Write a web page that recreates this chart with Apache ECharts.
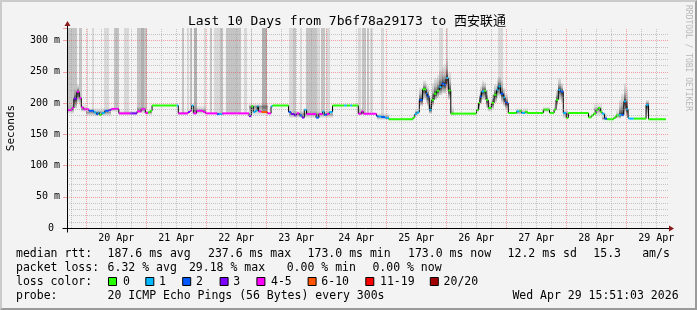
<!DOCTYPE html>
<html><head><meta charset="utf-8">
<script src="https://cdn.jsdelivr.net/npm/echarts@6/dist/echarts.min.js"></script>
<style>
html,body{margin:0;padding:0;background:#f3f3f3;}
#c{position:absolute;left:0;top:0;width:697px;height:310px;}
#frame{position:absolute;left:0;top:0;width:697px;height:310px;box-sizing:border-box;border-style:solid;border-width:2px;border-color:#cbcbcb #9a9a9a #9a9a9a #cbcbcb;pointer-events:none;}
</style></head><body>
<div id="c"></div><div id="frame"></div>
<script>
// ---- time unit: hours since 19 Apr 00:00 ----
const xMin = 16.28, xMax = 256.68, dataEnd = 255.85;
const yMin = 0, yMax = 320;
const yLabelValues = [0, 50, 100, 150, 200, 250, 300];
const dayLabelHours = [36, 60, 84, 108, 132, 156, 180, 204, 228, 252];
const dayLabels = ['20 Apr','21 Apr','22 Apr','23 Apr','24 Apr','25 Apr','26 Apr','27 Apr','28 Apr','29 Apr'];

const lossColors = ['#26ff00','#00b8ff','#0059ff','#7e00ff','#ff00ff','#ff5500','#ff0000','#a10000'];
const lossLabels = ['0','1','2','3','4-5','6-10','11-19','20/20'];

// median rtt steps (ms), loss class index
const stepHours = [16.28,18.3,19.0,20.2,21.2,22.0,22.8,25.0,27.0,28.0,28.7,29.2,30.2,31.4,33.0,34.0,37.0,41.6,44.3,46.0,47.6,48.7,49.6,50.3,60.2,60.8,64.7,65.5,66.1,66.8,68.1,70.8,71.7,76.4,77.2,78.4,89.1,90.0,90.8,91.6,92.4,92.9,94.0,96.5,97.9,98.5,104.9,105.9,107.2,108.1,109.2,110.3,111.2,112.1,115.9,117.0,118.5,119.2,120.3,121.2,122.5,127.2,128.2,129.6,130.4,132.8,134.1,134.8,140.1,140.9,142.0,143.5,145.0,154.7,155.4,156.2,157.2,158.5,159.9,160.4,161.2,162.1,163.1,164.1,165.2,166.1,167.1,167.9,168.8,169.8,180.1,180.9,181.5,182.1,183.1,183.9,184.8,186.1,187.1,188.1,188.8,189.7,190.8,191.5,192.1,192.8,196.1,197.2,198.1,199.5,200.4,206.8,209.3,211.1,211.9,212.8,213.7,214.8,216.0,216.8,224.9,226.0,226.9,227.9,228.7,229.6,230.3,231.3,232.3,235.0,235.9,237.0,238.0,239.0,239.9,240.7,241.2,243.0,247.9,248.9];
const stepMedian = [189,192,207,218,208,193,190,187.5,185,182,185,181,184,187.5,189,190.5,183.4,183.4,186.5,190,184,185,187.5,196,196,183.4,185.5,187.6,196,183.4,187.6,185.5,183.4,182.3,182.3,183.4,179,194.8,185.5,187.6,194.8,186.5,185.5,183.4,194.8,196,185.5,182.3,180.1,183.4,180.1,176.7,189.2,182.3,176.7,182.3,186,181,182.3,185.5,196,196,196,196,196,182.8,186.5,182.8,179,178.5,177.5,176.2,174,177,182.3,185,205,222,215,210.5,189.2,205,214.8,219.6,225.5,230.8,229.5,240,220,183,189,200,210.5,218.5,219.5,205,192,200,213.2,221.2,226.5,215,208.9,201.5,199.7,184,186.6,187.5,184,186,184,189.4,184,189.4,205,221,218.5,184,176.2,184,177,180,183,189,192,186,183,175,174,176.5,180,181,181,202.5,190,176,175,175,197,174];
const stepLoss = [4,4,3,4,4,4,4,2,1,2,1,0,1,2,3,4,4,3,4,4,4,0,0,0,1,4,3,4,1,4,4,4,4,2,1,4,3,0,1,1,1,4,5,4,1,0,2,3,3,4,2,3,1,4,2,4,1,2,4,1,0,1,0,1,0,4,4,4,2,1,2,1,0,0,1,1,2,0,2,2,1,0,0,0,1,2,2,1,0,0,0,0,2,1,0,0,0,0,0,1,1,2,1,2,2,0,1,0,1,0,0,0,0,0,0,1,2,1,0,0,0,0,0,0,0,0,1,2,0,0,0,1,2,1,1,1,1,0,1,0];

// smoke: [start h, end h, low ms, high ms]
const smokeBands = [
 [16.3,19.0,183,197],[19.0,20.2,195,222],[20.2,21.2,200,230],[21.2,22.0,195,215],[22.0,24.0,186,198],
 [24.0,34.0,179,192],[34.0,37.0,186,193],[37.0,44.3,181,188],[44.3,48.0,183,194],[48.0,50.3,181,189],
 [60.8,64.7,181,187],[66.8,71.7,182,196],[76.0,79.0,180,186],[89.0,96.5,180,199],[104.9,122.5,176,188],
 [132.8,134.8,181,192],[140.1,145.0,173,184],[145.0,154.7,172,176],[155.4,157.2,180,190],
 [157.2,158.5,195,225],[158.5,159.9,205,236],[159.9,160.4,200,232],[160.4,161.2,195,228],[161.2,162.1,183,212],
 [162.1,163.1,195,232],[163.1,164.1,205,240],[164.1,165.2,208,245],[165.2,166.1,212,252],[166.1,167.1,215,258],
 [167.1,167.9,215,262],[167.9,168.8,222,272],[168.8,169.8,205,250],[169.8,171.0,180,195],
 [180.1,180.9,185,200],[180.9,181.5,190,215],[181.5,182.1,198,228],[182.1,183.1,205,236],[183.1,183.9,205,234],
 [183.9,184.8,192,222],[184.8,186.1,186,205],[186.1,187.1,190,215],[187.1,188.1,200,230],[188.1,188.8,208,238],
 [188.8,189.7,210,242],[189.7,190.8,200,236],[190.8,191.5,195,225],[191.5,192.8,190,215],
 [196.0,200.5,182,192],[206.8,209.3,185,194],[211.1,211.9,186,200],[211.9,212.8,195,222],[212.8,213.7,205,240],
 [213.7,214.8,200,232],[214.8,216.8,175,190],[226.9,230.3,180,200],[230.3,232.3,172,184],[235.9,237.0,175,190],
 [237.0,238.0,175,205],[238.0,239.0,178,215],[239.0,239.9,185,232],[239.9,240.7,178,225],[240.7,241.2,172,185],
 [247.9,248.9,180,205]
];

// packet-loss smoke bars reaching the top: [start h, end h, shade 0..2]
const lossBars = [
 [16.3,20.4,1],[21.0,22.3,1],[24.2,24.8,0],[26.2,27.1,0],[31.1,33.0,0],[35.2,36.9,1],[39.0,41.1,0],
 [44.3,45.7,1],[45.7,46.9,2],[46.9,48.3,1],[62.2,62.9,1],[64.3,65.1,0],[65.5,66.4,1],[67.1,68.4,2],
 [70.9,71.8,0],[73.3,74.4,1],[75.1,77.5,0],[77.5,78.8,1],[79.8,85.9,1],[87.1,88.3,0],[89.8,90.3,0],
 [94.2,96.2,2],[104.9,106.7,0],[106.7,107.7,1],[109.3,110.3,0],[111.7,116.1,1],[116.1,117.5,0],
 [117.9,119.3,1],[119.7,121.3,0],[132.6,133.9,0],[134.3,135.9,1],[136.2,137.0,1],[137.4,138.7,0],
 [142.0,143.1,0],[164.9,166.5,0],[167.9,168.5,0],[188.8,190.6,0]
];
const barShades = ['#d8d8d8','#c4c4c4','#b0b0b0'];

function medianAt(h){
  let i = 0;
  while (i + 1 < stepHours.length && stepHours[i+1] <= h) i++;
  return stepMedian[i];
}

const medianItems = stepHours.map((h, i) => {
  const last = i + 1 >= stepHours.length;
  return [h, last ? dataEnd : stepHours[i+1], stepMedian[i], last ? stepMedian[i] : stepMedian[i+1], stepLoss[i]];
});

// grid lines
const gridMarks = [];
const dot = [1, 1];
for (let h = 18; h <= 252; h += 6) {
  const major = h % 24 === 0;
  gridMarks.push({xAxis: h, lineStyle: {color: major ? 'rgba(255,0,0,0.35)' : 'rgba(150,150,150,0.5)', type: dot, width: 1}});
}
for (let v = 10; v <= 310; v += 10) {
  const major = v % 50 === 0;
  gridMarks.push({yAxis: v, lineStyle: {color: major ? 'rgba(255,0,0,0.35)' : 'rgba(150,150,150,0.5)', type: dot, width: 1}});
}

const MONO = '"DejaVu Sans Mono", "Noto Sans CJK SC", monospace';
const chart = echarts.init(document.getElementById('c'), null, {renderer: 'canvas'});

chart.setOption({
  animation: false,
  backgroundColor: 'transparent',
  grid: {left: 67, right: 29, top: 28, bottom: 82, containLabel: false},
  xAxis: {
    type: 'value', min: xMin, max: xMax,
    axisLine: {show: false},
    axisTick: {show: false},
    splitLine: {show: false},
    axisLabel: {
      customValues: dayLabelHours,
      interval: 0,
      margin: 5,
      fontFamily: MONO, fontSize: 10, color: '#000',
      formatter: v => { const k = dayLabelHours.indexOf(Math.round(v)); return k >= 0 ? dayLabels[k] : ''; }
    }
  },
  yAxis: {
    type: 'value', min: yMin, max: yMax, interval: 50,
    axisLine: {show: false},
    axisTick: {show: true, length: 4, lineStyle: {color: 'rgba(255,0,0,0.35)'}},
    splitLine: {show: false},
    axisLabel: {
      margin: 7, fontFamily: MONO, fontSize: 10, color: '#000',
      formatter: v => v === 0 ? '0 ' : (yLabelValues.indexOf(v) >= 0 ? v + ' m' : '')
    }
  },
  series: [
    {
      type: 'custom', z: 1, clip: true, data: lossBars, encode: {x: [0, 1], y: 2},
      renderItem(params, api) {
        const s = api.value(0), e = api.value(1), sh = api.value(2);
        const bottom = medianAt((s + e) / 2);
        const p0 = api.coord([s, yMax]), p1 = api.coord([e, bottom]);
        const x0 = Math.round(p0[0]), x1 = Math.max(Math.round(p1[0]), x0 + 1);
        return {type: 'rect', shape: {x: x0, y: Math.round(p0[1]), width: x1 - x0, height: Math.round(p1[1] - p0[1])},
          style: {fill: barShades[sh]}};
      }
    },
    {
      type: 'custom', z: 2, clip: true, data: smokeBands, encode: {x: [0, 1], y: [2, 3]},
      renderItem(params, api) {
        const s = api.value(0), e = api.value(1), lo = api.value(2), hi = api.value(3);
        const med = medianAt((s + e) / 2);
        let off = (hi - med) / (hi - lo); off = Math.max(0.05, Math.min(0.95, off));
        const k = (hi - lo) < 22 ? 0.45 : 1;
        const a = x => 'rgba(0,0,0,' + (x * k).toFixed(3) + ')';
        const p0 = api.coord([s, hi]), p1 = api.coord([e, lo]);
        const x0 = Math.round(p0[0]), x1 = Math.max(Math.round(p1[0]), x0 + 1);
        return {type: 'rect', shape: {x: x0, y: p0[1], width: x1 - x0, height: p1[1] - p0[1]},
          style: {fill: new echarts.graphic.LinearGradient(0, 0, 0, 1, [
            {offset: 0, color: a(0.05)},
            {offset: off * 0.5, color: a(0.22)},
            {offset: off * 0.85, color: a(0.55)},
            {offset: off, color: a(0.85)},
            {offset: off + (1 - off) * 0.5, color: a(0.35)},
            {offset: 1, color: a(0.06)}
          ])}};
      }
    },
    {
      type: 'line', z: 3, data: [[xMin, 0]], symbol: 'none', lineStyle: {opacity: 0}, silent: true,
      markLine: {silent: true, symbol: ['none', 'none'], label: {show: false}, data: gridMarks}
    },
    {
      type: 'custom', z: 4, clip: true, data: medianItems, encode: {x: [0, 1], y: [2, 3]},
      renderItem(params, api) {
        const h0 = api.value(0), h1 = api.value(1), v = api.value(2), vn = api.value(3), loss = api.value(4);
        const a = api.coord([h0, v]), b = api.coord([h1, v]), c = api.coord([h1, vn]);
        return {type: 'group', children: [
          {type: 'line', shape: {x1: b[0], y1: b[1], x2: c[0], y2: c[1]}, style: {stroke: '#000', lineWidth: 1}},
          {type: 'line', shape: {x1: a[0], y1: a[1], x2: b[0], y2: b[1]}, style: {stroke: lossColors[loss], lineWidth: 2}}
        ]};
      }
    }
  ]
});

// overlays: axes, arrows, texts
const o = chart.convertToPixel({xAxisIndex: 0, yAxisIndex: 0}, [xMin, 0]);
const r = chart.convertToPixel({xAxisIndex: 0, yAxisIndex: 0}, [xMax, 0]);
const t = chart.convertToPixel({xAxisIndex: 0, yAxisIndex: 0}, [xMin, yMax]);
const ox = Math.round(o[0]) + 0.5, oy = Math.round(o[1]) + 0.5;
const ARROW = '#8b1a1a';

function txt(x, y, s, extra) {
  return Object.assign({type: 'text', x: x, y: y, silent: true, z: 10,
    style: Object.assign({text: s, font: '11.5px ' + MONO, fill: '#000', textAlign: 'left', textVerticalAlign: 'middle', align: 'left', verticalAlign: 'middle'}, extra || {})});
}

const legendRows = [
  [254, [[16,'median rtt:'],[107.6,'187.6 ms avg'],[208,'237.6 ms max'],[307.6,'173.0 ms min'],[408,'173.0 ms now'],[507.6,'12.2 ms sd'],[593.3,'15.3'],[642.2,'am/s']]],
  [268, [[16,'packet loss:'],[107.6,'6.32 % avg'],[188.9,'29.18 % max'],[286.7,'0.00 % min'],[372.4,'0.00 % now']]],
  [282, [[16,'loss color:']]],
  [296, [[16,'probe:'],[107.6,'20 ICMP Echo Pings (56 Bytes) every 300s'],[512.4,'Wed Apr 29 15:51:03 2026']]]
];
const boxX = [108, 145.3, 182.2, 219.6, 256.4, 307.6, 365.3, 429.8];
const boxLabelX = [123, 159, 196, 233.3, 271, 321.3, 380, 443.6];

const g = [];
g.push({type: 'line', silent: true, z: 9, shape: {x1: ox - 5, y1: oy, x2: r[0] + 1, y2: oy}, style: {stroke: '#000', lineWidth: 1}});
g.push({type: 'line', silent: true, z: 9, shape: {x1: ox, y1: oy + 4, x2: ox, y2: t[1] - 2}, style: {stroke: '#000', lineWidth: 1}});
g.push({type: 'polygon', silent: true, z: 9, shape: {points: [[r[0] + 1, oy - 3], [r[0] + 6, oy], [r[0] + 1, oy + 3]]}, style: {fill: ARROW}});
g.push({type: 'polygon', silent: true, z: 9, shape: {points: [[ox - 3, t[1] - 2], [ox, t[1] - 7], [ox + 3, t[1] - 2]]}, style: {fill: ARROW}});
g.push(txt(347, 22, 'Last 10 Days from 7b6f78a29173 to 西安联通', {font: '13px ' + MONO, textAlign: 'center', align: 'center'}));
g.push(Object.assign(txt(11, 128, 'Seconds', {font: '11px ' + MONO, textAlign: 'center', align: 'center'}), {rotation: Math.PI / 2}));
g.push(Object.assign(txt(688, 5, 'RRDTOOL / TOBI OETIKER', {font: '8px ' + MONO, fill: '#b8b8b8'}), {rotation: -Math.PI / 2}));
legendRows.forEach(([y, items]) => items.forEach(([x, s]) => g.push(txt(x, y, s))));
lossColors.forEach((col, i) => {
  g.push({type: 'rect', silent: true, z: 10, shape: {x: boxX[i] + 0.5, y: 277.5, width: 8, height: 8}, style: {fill: col, stroke: '#000', lineWidth: 1}});
  g.push(txt(boxLabelX[i], 282, lossLabels[i]));
});

chart.setOption({graphic: g});
</script></body></html>
